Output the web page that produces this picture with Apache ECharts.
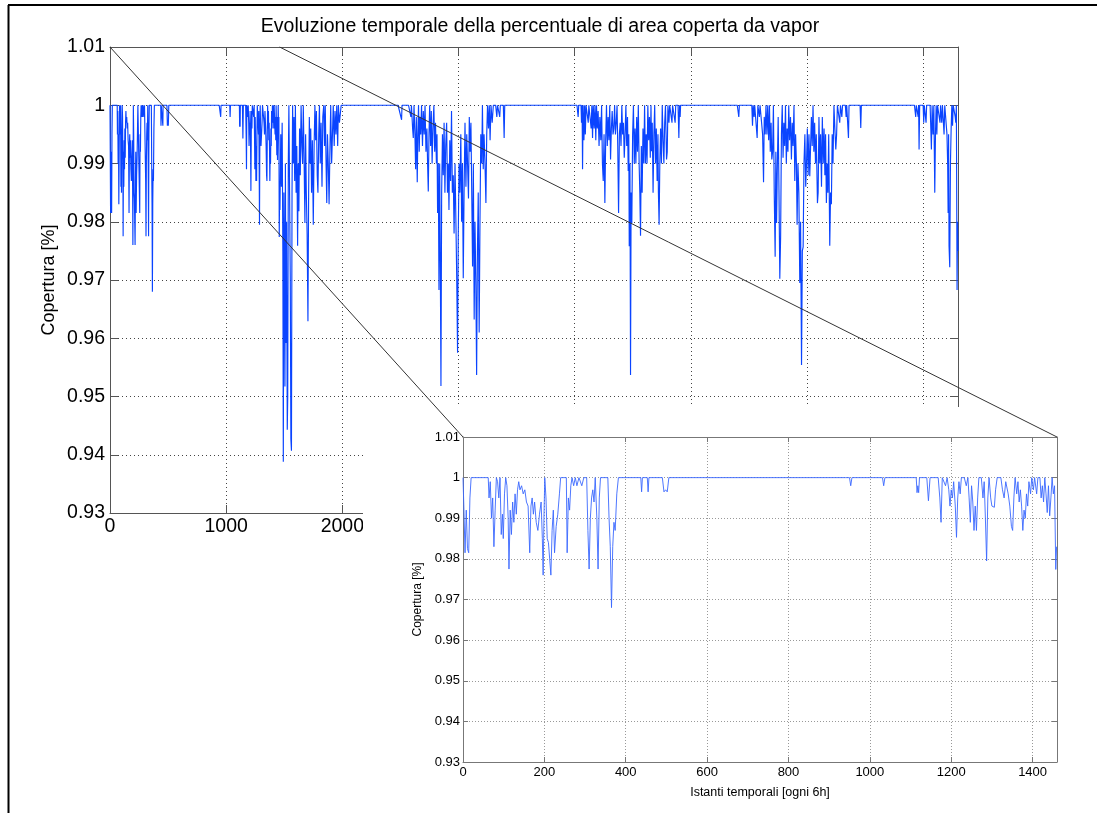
<!DOCTYPE html>
<html><head><meta charset="utf-8">
<script src="https://cdn.jsdelivr.net/npm/echarts@6/dist/echarts.min.js"></script>
<style>html,body{margin:0;padding:0;background:#fff}#c{width:1097px;height:813px}</style>
</head><body><div id="c"></div><script>
// ---- DATA: [sample index (every 6h), coverage] ----
const insetCluster1 = [[0,1],[2,0.993],[5,0.9815],[8,0.992],[11,0.9825],[14,0.9815],[17,0.995],[20,1],
[62,1],[64,0.995],[67,0.999],[70,0.99],[73,0.995],[76,0.983],[79,0.992],[82,1],[85,0.999],[88,0.995],[91,1],[94,0.986],[97,0.991],[99,0.985],[102,0.996],[105,1],[108,0.998],[111,0.99],[113,0.9775],[116,0.992],[119,0.986],[122,0.994],[125,0.989],[128,0.996],[131,0.991],[134,0.997],[137,0.999],[140,0.997],[144,0.998],[148,0.996],[152,0.997],[156,0.994],[160,0.993],[164,0.9815],[167,0.993],[170,0.995],[173,0.991],[176,0.994],[180,0.989],[184,0.987],[188,0.991],[192,0.994],[195,0.985],[197,0.976],[199,0.99],[201,1],[204,0.995],[207,0.985],[210,0.984],[213,0.98],[216,0.976],[219,0.987],[222,0.992],[225,0.9815],[229,0.988],[233,0.991],[237,0.996],[240,1],[254,1],[256,0.9815],[259,0.995],[262,0.992],[265,0.998],[268,1],[272,0.998],[276,1],[280,0.998],[285,1],[292,0.998],[297,1],[304,1],[307,0.987],[310,0.9775],[313,0.99],[316,0.995],[319,0.997],[322,0.994],[325,1],[329,0.99],[332,0.9775],[335,0.995],[338,1],[356,1],[359,0.99],[362,0.983],[365,0.968],[368,0.983],[371,0.989],[374,0.987],[378,0.996],[382,1],[437,1],[439,0.9965],[441,1],[453,1],[455,0.9965],[457,1],[490,1],[494,0.9965],[498,0.997],[502,0.9965],[506,1]];
const insetCluster2 = [[940,1],[950,1],[953,0.998],[956,1],[1031,1],[1034,0.998],[1037,1],[1114,1],[1116,0.9963],[1118,0.998],[1120,0.9963],[1122,1],[1140,1],[1144,0.9943],[1148,1],[1168,1],[1172,0.995],[1175,0.989],[1178,1],[1182,1],[1186,0.998],[1190,1],[1194,0.997],[1197,0.993],[1200,0.997],[1203,0.995],[1206,0.999],[1210,0.993],[1213,0.9853],[1216,0.995],[1219,0.999],[1222,0.996],[1225,1],[1232,1],[1237,0.998],[1241,1],[1244,0.995],[1247,0.989],[1250,0.998],[1253,0.994],[1256,0.987],[1259,0.993],[1262,0.987],[1265,0.995],[1268,1],[1274,1],[1278,0.995],[1281,0.999],[1284,0.99],[1287,0.9795],[1290,0.995],[1293,1],[1297,0.995],[1300,0.993],[1303,0.9927],[1306,0.9927],[1309,0.997],[1313,1],[1322,1],[1326,0.997],[1330,0.995],[1334,0.999],[1340,0.996],[1344,0.993],[1348,0.988],[1351,0.987],[1354,0.995],[1357,1],[1361,0.996],[1364,0.999],[1367,0.994],[1370,0.997],[1373,0.993],[1376,0.987],[1379,0.992],[1382,0.99],[1385,0.996],[1388,0.993],[1391,0.999],[1395,0.996],[1398,1],[1402,0.997],[1405,1],[1410,0.996],[1413,1],[1418,1],[1421,0.995],[1424,0.998],[1427,0.994],[1430,1],[1433,0.996],[1436,0.9914],[1439,0.998],[1442,0.9906],[1445,0.995],[1448,1],[1451,0.996],[1454,0.998],[1457,0.9774],[1459,0.983]];
const clusterB = [[1460,0.983],[1463,0.982],[1470,0.995],[1476,0.986],[1482,0.997],[1488,0.975],[1492,0.9388],[1497,0.985],[1502,0.97],[1506,0.9517],[1510,0.99],[1515,0.9592],[1520,0.98],[1526,0.9443],[1530,0.95],[1535,0.99],[1540,1],[1546,0.985],[1552,0.97],[1557,0.9427],[1562,0.9407],[1567,0.985],[1572,1],[1578,0.99],[1584,0.998],[1590,0.987],[1596,1],[1602,0.985],[1608,0.993],[1615,0.9759],[1620,0.99],[1626,0.9818],[1632,0.996],[1638,0.988],[1645,1],[1652,0.993],[1658,0.99],[1664,1],[1670,0.992],[1678,0.9798],[1684,0.995],[1690,0.985],[1697,0.9778],[1704,0.9629],[1710,0.985],[1716,0.998],[1722,0.99],[1728,0.996],[1735,0.985],[1742,0.994],[1750,0.9795],[1757,0.993],[1764,1],[1770,0.994],[1777,0.999],[1784,0.988],[1790,0.985],[1797,0.995],[1803,1],[1810,0.99],[1817,0.997],[1825,0.986],[1832,0.998],[1840,1],[1847,0.993],[1853,1],[1860,0.99],[1866,0.9832],[1872,0.995],[1879,0.99],[1886,0.983],[1893,0.992],[1900,1],[1908,0.99],[1915,0.995],[1922,1],[1930,0.993],[1937,0.999],[1945,0.995],[1952,1],[1960,0.993],[1966,1],[1975,0.997],[1985,0.997],[1990,1]];
const clusterC = [[2480,1],[2510,0.9975],[2514,1],[2570,1],[2590,0.998],[2595,1],[2605,0.996],[2611,0.9944],[2617,1],[2625,0.995],[2631,0.989],[2637,0.998],[2645,0.9868],[2650,0.995],[2656,1],[2662,0.992],[2668,0.998],[2675,0.995],[2682,1],[2690,0.993],[2697,0.999],[2705,0.995],[2712,1],[2720,0.992],[2728,0.996],[2734,0.99],[2740,0.9852],[2746,0.995],[2752,1],[2760,0.993],[2766,0.999],[2773,0.99],[2780,0.996],[2788,1],[2795,0.992],[2802,0.997],[2810,0.99],[2815,0.995],[2820,0.9815],[2826,0.99],[2832,0.9683],[2838,0.99],[2843,0.975],[2849,0.9518],[2855,0.985],[2862,0.995],[2869,0.988],[2876,0.997],[2883,0.985],[2890,0.993],[2898,0.997],[2905,0.985],[2912,0.99],[2918,0.982],[2925,0.994],[2932,0.987],[2940,0.999],[2947,0.985],[2955,0.988],[2962,0.978],[2970,0.99],[2978,0.9798],[2985,0.97],[2992,0.9575],[2998,0.9775],[3005,0.99],[3012,0.985],[3020,0.995],[3027,0.98],[3034,0.99],[3041,0.9703],[3048,0.985],[3056,0.997],[3064,0.986],[3071,0.995],[3078,0.99],[3086,0.984],[3093,0.998],[3100,0.992],[3107,0.997],[3114,0.985],[3121,0.9723],[3128,0.99],[3135,0.9632],[3142,0.98],[3149,0.97],[3156,0.9537],[3163,0.975],[3170,0.985],[3178,0.961],[3185,0.98],[3192,0.995],[3200,0.99],[3206,1],[3213,0.989],[3220,0.995],[3228,0.99],[3236,0.9832],[3243,0.995],[3250,1],[3258,0.996],[3265,1],[3272,0.994],[3280,1],[3290,0.997],[3300,1],[3320,1],[3330,0.998],[3336,1],[3350,1],[3355,0.998],[3360,1],[3386,1],[3393,0.9944],[3398,1]];
const clusterD = [[4020,1],[4030,0.998],[4035,1],[4055,1],[4059,0.997],[4064,1],[4068,0.989],[4073,1],[4080,0.994],[4086,1],[4092,0.995],[4098,1],[4110,1],[4117,0.997],[4122,1],[4135,1],[4142,0.996],[4148,1],[4154,0.9944],[4160,1],[4168,0.996],[4175,1],[4182,0.994],[4188,1],[4195,0.996],[4202,0.999],[4210,0.993],[4217,0.998],[4225,0.994],[4232,1],[4239,0.99],[4246,0.987],[4253,0.995],[4260,0.9832],[4267,0.994],[4274,1],[4281,0.993],[4288,0.998],[4295,0.994],[4302,1],[4309,0.9907],[4316,0.996],[4323,0.999],[4330,0.995],[4337,0.996],[4344,1],[4351,0.995],[4358,0.997],[4365,1],[4371,0.993],[4378,0.9815],[4385,0.995],[4392,0.997],[4399,0.993],[4406,1],[4413,0.995],[4420,0.997],[4427,0.991],[4434,0.995],[4441,1],[4448,0.993],[4455,0.998],[4461,0.9887],[4466,0.995],[4470,0.9758],[4476,0.99],[4481,0.9537],[4486,0.985],[4492,0.9798],[4499,0.995],[4506,1],[4513,0.99],[4520,0.996],[4527,0.99],[4534,0.998],[4541,0.992],[4548,1],[4555,0.99],[4561,0.985],[4567,0.9776],[4574,0.993],[4581,0.985],[4588,0.996],[4595,0.99],[4602,1],[4609,0.99],[4616,0.995],[4623,0.99],[4630,1],[4637,0.994],[4644,0.998],[4651,0.991],[4657,1],[4662,0.9921],[4668,0.997],[4675,0.985],[4682,0.995],[4689,1],[4696,0.99],[4703,0.996],[4710,0.987],[4717,0.995],[4721,0.985],[4727,0.9795],[4733,0.99],[4740,0.996],[4747,0.99],[4754,1],[4761,0.994],[4768,0.99],[4775,0.997],[4782,1],[4791,0.9907],[4797,0.992],[4803,1],[4812,0.997],[4818,1],[4830,1],[4838,0.997],[4843,1],[4860,1],[4865,0.997],[4870,1],[4890,1],[4897,0.9944],[4903,1],[4908,0.998],[4912,1]];
const clusterE = [[5400,1],[5413,0.998],[5418,1],[5525,1],[5531,0.9965],[5537,1],[5545,0.998],[5550,1],[5565,1],[5571,0.9944],[5577,1],[5590,0.998],[5596,1],[5610,1],[5618,0.995],[5626,0.9868],[5632,0.998],[5640,0.995],[5647,1],[5655,0.995],[5662,1],[5670,0.994],[5677,1],[5684,0.992],[5691,0.997],[5697,0.9907],[5704,0.992],[5711,1],[5718,0.985],[5726,0.974],[5732,0.992],[5738,0.9798],[5745,0.99],[5752,0.998],[5759,0.985],[5766,0.9702],[5773,0.9774],[5780,0.995],[5787,1],[5794,0.991],[5801,0.997],[5808,0.993],[5815,1],[5822,0.99],[5829,0.996],[5836,0.992],[5843,1],[5850,0.994],[5858,0.998],[5866,0.9907],[5873,0.997],[5880,0.993],[5888,1],[5895,0.987],[5902,0.995],[5909,0.99],[5915,0.9795],[5922,0.99],[5930,0.985],[5938,0.9695],[5945,0.98],[5953,0.9554],[5960,0.975],[5967,0.9757],[5974,0.99],[5982,0.995],[5989,0.986],[5996,0.99],[6003,0.996],[6010,0.988],[6017,0.995],[6024,0.9878],[6031,0.9875],[6038,0.998],[6045,0.993],[6052,1],[6059,0.992],[6066,0.997],[6073,0.99],[6080,0.995],[6090,0.9832],[6096,0.985],[6103,0.998],[6110,0.99],[6117,0.995],[6125,0.986],[6132,0.998],[6140,0.99],[6147,0.996],[6154,0.988],[6160,0.995],[6167,0.9832],[6174,0.99],[6180,0.985],[6187,0.995],[6196,0.9759],[6203,0.985],[6210,0.983],[6217,0.995],[6224,0.99],[6232,1],[6240,0.996],[6248,0.9924],[6255,0.995],[6262,1],[6275,1],[6282,0.997],[6288,1],[6300,0.998],[6306,1],[6330,1],[6337,0.998],[6342,1],[6352,1],[6357,0.9944],[6362,1],[6457,1],[6463,0.9961],[6468,1]];
const clusterF = [[6925,1],[6936,0.998],[6941,1],[6953,1],[6957,0.998],[6961,1],[6965,0.9924],[6970,1],[7000,1],[7005,0.997],[7010,1],[7020,1],[7025,0.997],[7030,1],[7060,1],[7066,0.996],[7071,0.9924],[7077,1],[7085,0.995],[7092,1],[7100,0.985],[7106,0.995],[7112,1],[7118,0.995],[7124,1],[7140,1],[7145,0.997],[7150,1],[7160,0.997],[7166,1],[7175,1],[7180,0.995],[7186,1],[7200,1],[7205,0.995],[7211,0.99],[7215,0.9815],[7219,0.995],[7223,0.9758],[7229,0.9722],[7235,0.99],[7241,0.996],[7247,1],[7253,0.9965],[7259,1],[7270,1],[7276,0.998],[7281,0.997],[7286,1],[7292,0.9683],[7296,0.98],[7300,0.975]];

const mainXMax = 7300, mainXStep = 1000;
const insetXMax = 1460, insetXStep = 200;
const yMin = 0.93, yMax = 1.01, yStep = 0.01;
const titleText = 'Evoluzione temporale della percentuale di area coperta da vapor';
const yName = 'Copertura [%]';
const xNameInset = 'Istanti temporali [ogni 6h]';

const allData = [].concat(insetCluster1, insetCluster2, clusterB, clusterC, clusterD, clusterE, clusterF);
const insetData = allData.filter(p => p[0] <= insetXMax);

const FONT = "'Liberation Sans', Arial, Helvetica, sans-serif";
const yFmt = v => String(+(+v).toFixed(2));
const xFmt = v => String(Math.round(v));
const chart = echarts.init(document.getElementById('c'), null, {renderer: 'canvas'});

function xAx(grid, max, step, pos, zl, big) {
  const axisCol = big ? '#555' : '#777';
  return {
    gridIndex: grid, type: 'value', min: 0, max: max, interval: step, position: pos, zlevel: zl, z: zl ? 6 : 0,
    axisLine: {show: true, onZero: false, lineStyle: {color: axisCol, width: 1}},
    axisTick: {show: true, inside: true, length: big ? 8 : 5, lineStyle: {color: axisCol}},
    axisLabel: {show: pos === 'bottom', fontSize: big ? 19.5 : 13, color: '#000', margin: big ? 4 : 4, fontFamily: FONT, showMaxLabel: false, formatter: xFmt},
    splitLine: {show: pos === 'bottom', lineStyle: {color: big ? '#444' : '#999', type: big ? [1, 3] : [1, 2], width: 1}}
  };
}
function yAx(grid, pos, zl, big) {
  const axisCol = big ? '#555' : '#777';
  return {
    gridIndex: grid, type: 'value', min: yMin, max: yMax, interval: yStep, position: pos, zlevel: zl, z: zl ? 6 : 0,
    axisLine: {show: true, onZero: false, lineStyle: {color: axisCol, width: 1}},
    axisTick: {show: true, inside: true, length: big ? 8 : 5, lineStyle: {color: axisCol}},
    axisLabel: {show: pos === 'left', fontSize: big ? 19.5 : 13, color: '#000', margin: big ? 5 : 3, fontFamily: FONT, formatter: yFmt},
    splitLine: {show: pos === 'left', lineStyle: {color: big ? '#444' : '#999', type: big ? [1, 3] : [1, 2], width: 1}}
  };
}

const xs = [xAx(0, mainXMax, mainXStep, 'bottom', 0, true), xAx(0, mainXMax, mainXStep, 'top', 0, true),
            xAx(1, insetXMax, insetXStep, 'bottom', 1, false), xAx(1, insetXMax, insetXStep, 'top', 1, false)];
xs[2].name = xNameInset; xs[2].nameLocation = 'middle'; xs[2].nameGap = 24;
xs[2].nameTextStyle = {fontSize: 12.5, color: '#000', fontFamily: FONT};
const ys = [yAx(0, 'left', 0, true), yAx(0, 'right', 0, true), yAx(1, 'left', 1, false), yAx(1, 'right', 1, false)];
ys[0].name = yName; ys[0].nameLocation = 'middle'; ys[0].nameGap = 52; ys[0].nameMoveOverlap = false;
ys[0].nameTextStyle = {fontSize: 18, color: '#000', fontFamily: FONT};
ys[2].name = yName; ys[2].nameLocation = 'middle'; ys[2].nameGap = 34;
ys[2].nameTextStyle = {fontSize: 12, color: '#000', fontFamily: FONT};

chart.setOption({
  animation: false,
  backgroundColor: '#fff',
  textStyle: {fontFamily: FONT},
  grid: [
    {left: 110, top: 47, width: 848, height: 466, zlevel: 0},
    {left: 463, top: 437, width: 594, height: 325, zlevel: 1, z: 5}
  ],
  xAxis: xs,
  yAxis: ys,
  series: [
    {type: 'line', xAxisIndex: 0, yAxisIndex: 0, data: allData, symbol: 'none', showSymbol: false, silent: true,
     lineStyle: {color: '#0a44ff', width: 1.15}, zlevel: 0, z: 2},
    {type: 'line', xAxisIndex: 2, yAxisIndex: 2, data: insetData, symbol: 'none', showSymbol: false, silent: true,
     lineStyle: {color: '#3a68ff', width: 0.9}, zlevel: 1, z: 8}
  ]
});

const a0 = chart.convertToPixel({gridIndex: 0}, [0, yMax]);
const a1 = chart.convertToPixel({gridIndex: 0}, [insetXMax, yMax]);
const b0 = chart.convertToPixel({gridIndex: 1}, [0, yMax]);
const b1 = chart.convertToPixel({gridIndex: 1}, [insetXMax, yMax]);
const mainBL = chart.convertToPixel({gridIndex: 0}, [0, yMin]);
const mainTR = chart.convertToPixel({gridIndex: 0}, [mainXMax, yMax]);

chart.setOption({
  graphic: {elements: [
    {type: 'rect', id: 'cover', zlevel: 1, z: 0, silent: true,
     shape: {x: 363, y: 407, width: 800, height: 500}, style: {fill: '#fff'}},
    {type: 'text', id: 'title', zlevel: 2, z: 10, silent: true, x: (mainBL[0] + mainTR[0]) / 2 + 6, y: 27,
     style: {text: titleText, fill: '#000', font: '19.5px ' + FONT, align: 'center', verticalAlign: 'middle'}},
    {type: 'line', id: 'z1', zlevel: 2, z: 10, silent: true, shape: {x1: a0[0], y1: a0[1], x2: b0[0], y2: b0[1]},
     style: {stroke: '#333', lineWidth: 1}},
    {type: 'line', id: 'z2', zlevel: 2, z: 10, silent: true, shape: {x1: a1[0], y1: a1[1], x2: b1[0], y2: b1[1]},
     style: {stroke: '#333', lineWidth: 1}},
    {type: 'line', id: 'bt', zlevel: 2, z: 10, silent: true, shape: {x1: 8, y1: 5, x2: 1097, y2: 5},
     style: {stroke: '#000', lineWidth: 2}},
    {type: 'line', id: 'bl', zlevel: 2, z: 10, silent: true, shape: {x1: 8.5, y1: 5, x2: 8.5, y2: 813},
     style: {stroke: '#000', lineWidth: 2}}
  ]}
});
</script></body></html>
